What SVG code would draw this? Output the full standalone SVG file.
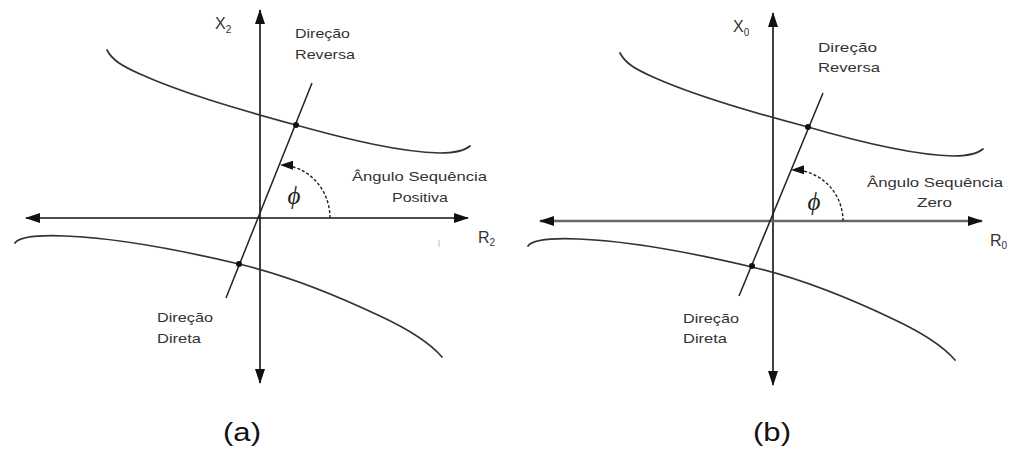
<svg xmlns="http://www.w3.org/2000/svg" width="1013" height="450" viewBox="0 0 1013 450">
<style>
.ax{stroke:#111;stroke-width:1.6;fill:none;marker-start:url(#ah);marker-end:url(#ah)}
.axg{stroke:#666;stroke-width:2.5;fill:none;marker-start:url(#ah);marker-end:url(#ah)}
.dg{stroke:#222;stroke-width:1.5;fill:none}
.cv{stroke:#333;stroke-width:1.7;fill:none;stroke-linecap:round}
.arc{stroke:#222;stroke-width:1.4;fill:none;stroke-dasharray:3 2;marker-end:url(#sa)}
.dot{fill:#111}
.lb{font-family:"Liberation Sans",Arial,sans-serif;font-size:13.5px;fill:#333}
.ax-l{font-family:"Liberation Sans",Arial,sans-serif;font-size:16px;fill:#333}
.phi{font-family:"Liberation Serif","Times New Roman",serif;font-style:italic;font-size:25px;fill:#222}
.cap{font-family:"Liberation Sans",Arial,sans-serif;font-size:26px;fill:#111}
</style>
<defs>
<marker id="ah" viewBox="0 0 15 10" refX="14" refY="5" markerWidth="15" markerHeight="10" markerUnits="userSpaceOnUse" orient="auto-start-reverse">
<path d="M0,0 L15,5 L0,10 Z" fill="#111"/>
</marker>
<marker id="sa" viewBox="0 0 13 9" refX="12" refY="4.5" markerWidth="13" markerHeight="9" markerUnits="userSpaceOnUse" orient="auto">
<path d="M0,0 L13,4.5 L0,9 Z" fill="#111"/>
</marker>
</defs>

<g id="connectors">
<!-- panel (a) -->
<line class="ax" x1="260" y1="383" x2="260" y2="10"/>
<line class="ax" x1="468" y1="218" x2="26" y2="218"/>
<line class="dg" x1="312" y1="83" x2="226" y2="298"/>
<path class="cv" d="M107,50 C112,60 122,66 140,74 C180,92 230,107 296,125 C350,140 400,152 440,153 C455,153 465,150 470,146"/>
<path class="cv" d="M15,243 C20,236 40,235 65,236 C120,238 180,250 239,264 C290,276 340,297 380,316 C410,330 430,343 442,357"/>
<path class="arc" d="M330,218 A50,53 0 0,0 281,165"/>
<line x1="439" y1="240" x2="439" y2="247" stroke="#bbb" stroke-width="1"/>
<!-- panel (b) -->
<line class="ax" x1="773" y1="385" x2="773" y2="13"/>
<line class="axg" x1="982" y1="221" x2="540" y2="221"/>
<line class="dg" x1="823" y1="93" x2="739" y2="296"/>
<path class="cv" d="M620,53 C625,63 635,69 653,77 C693,95 743,110 808,127 C863,143 913,155 953,156 C968,156 978,153 983,149"/>
<path class="cv" d="M528,246 C533,239 553,238 578,239 C633,241 693,253 752,267 C803,279 853,300 893,319 C923,333 943,346 955,360"/>
<path class="arc" d="M843,221 A50,51 0 0,0 792,170"/>
</g>

<g id="node-a-points">
<circle class="dot" cx="296" cy="125" r="3"/>
<circle class="dot" cx="239" cy="264" r="3"/>
</g>
<g id="node-b-points">
<circle class="dot" cx="808" cy="127" r="3"/>
<circle class="dot" cx="752" cy="266" r="3"/>
</g>

<g id="labels-a">
<text class="ax-l" x="215" y="29">X<tspan font-size="10" dy="4">2</tspan></text>
<text class="ax-l" x="478" y="243">R<tspan font-size="10" dy="3">2</tspan></text>
<text class="lb" x="295" y="38" textLength="55" lengthAdjust="spacingAndGlyphs">Direção</text>
<text class="lb" x="295" y="59" textLength="60" lengthAdjust="spacingAndGlyphs">Reversa</text>
<text class="lb" x="352" y="181" textLength="135" lengthAdjust="spacingAndGlyphs">Ângulo Sequência</text>
<text class="lb" x="392" y="202" textLength="56" lengthAdjust="spacingAndGlyphs">Positiva</text>
<text class="lb" x="157" y="322" textLength="56" lengthAdjust="spacingAndGlyphs">Direção</text>
<text class="lb" x="157" y="343" textLength="44" lengthAdjust="spacingAndGlyphs">Direta</text>
<text class="phi" x="294" y="204" text-anchor="middle">ϕ</text>
<text class="cap" x="223" y="441" textLength="38" lengthAdjust="spacingAndGlyphs">(a)</text>
</g>

<g id="labels-b">
<text class="ax-l" x="733" y="32">X<tspan font-size="10" dy="4">0</tspan></text>
<text class="ax-l" x="990" y="246">R<tspan font-size="10" dy="3">0</tspan></text>
<text class="lb" x="818" y="52" textLength="59" lengthAdjust="spacingAndGlyphs">Direção</text>
<text class="lb" x="818" y="72" textLength="62" lengthAdjust="spacingAndGlyphs">Reversa</text>
<text class="lb" x="867" y="187" textLength="136" lengthAdjust="spacingAndGlyphs">Ângulo Sequência</text>
<text class="lb" x="917" y="207" textLength="35" lengthAdjust="spacingAndGlyphs">Zero</text>
<text class="lb" x="683" y="323" textLength="56" lengthAdjust="spacingAndGlyphs">Direção</text>
<text class="lb" x="683" y="343" textLength="44" lengthAdjust="spacingAndGlyphs">Direta</text>
<text class="phi" x="814" y="210" text-anchor="middle">ϕ</text>
<text class="cap" x="753" y="441" textLength="38" lengthAdjust="spacingAndGlyphs">(b)</text>
</g>
</svg>
